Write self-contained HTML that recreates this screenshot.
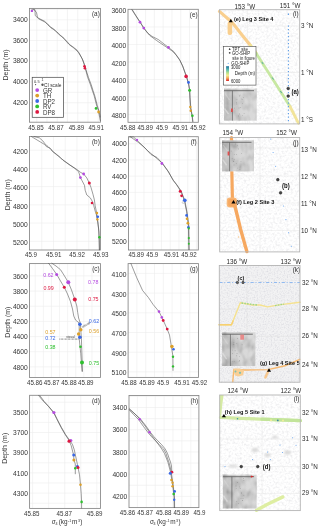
<!DOCTYPE html>
<html><head><meta charset="utf-8"><style>
html,body{margin:0;padding:0;background:#fff;width:320px;height:529px;overflow:hidden;}
svg{display:block;will-change:transform;}
text{font-family:"Liberation Sans", sans-serif;}
</style></head><body>
<svg width="320" height="529" viewBox="0 0 320 529" font-family='"Liberation Sans", sans-serif'>
<rect width="320" height="529" fill="#fff"/>
<line x1="29.50" y1="9.44" x2="100.50" y2="9.44" stroke="#ececec" stroke-width="0.6" />
<line x1="29.50" y1="19.80" x2="100.50" y2="19.80" stroke="#ececec" stroke-width="0.6" />
<line x1="29.50" y1="30.16" x2="100.50" y2="30.16" stroke="#ececec" stroke-width="0.6" />
<line x1="29.50" y1="40.52" x2="100.50" y2="40.52" stroke="#ececec" stroke-width="0.6" />
<line x1="29.50" y1="50.89" x2="100.50" y2="50.89" stroke="#ececec" stroke-width="0.6" />
<line x1="29.50" y1="61.25" x2="100.50" y2="61.25" stroke="#ececec" stroke-width="0.6" />
<line x1="29.50" y1="71.61" x2="100.50" y2="71.61" stroke="#ececec" stroke-width="0.6" />
<line x1="29.50" y1="81.97" x2="100.50" y2="81.97" stroke="#ececec" stroke-width="0.6" />
<line x1="29.50" y1="92.34" x2="100.50" y2="92.34" stroke="#ececec" stroke-width="0.6" />
<line x1="29.50" y1="102.70" x2="100.50" y2="102.70" stroke="#ececec" stroke-width="0.6" />
<line x1="29.50" y1="113.06" x2="100.50" y2="113.06" stroke="#ececec" stroke-width="0.6" />
<line x1="36.70" y1="8.40" x2="36.70" y2="122.20" stroke="#ececec" stroke-width="0.6" />
<line x1="46.95" y1="8.40" x2="46.95" y2="122.20" stroke="#ececec" stroke-width="0.6" />
<line x1="57.20" y1="8.40" x2="57.20" y2="122.20" stroke="#ececec" stroke-width="0.6" />
<line x1="67.45" y1="8.40" x2="67.45" y2="122.20" stroke="#ececec" stroke-width="0.6" />
<line x1="77.70" y1="8.40" x2="77.70" y2="122.20" stroke="#ececec" stroke-width="0.6" />
<line x1="87.95" y1="8.40" x2="87.95" y2="122.20" stroke="#ececec" stroke-width="0.6" />
<line x1="98.20" y1="8.40" x2="98.20" y2="122.20" stroke="#ececec" stroke-width="0.6" />
<rect x="29.5" y="8.4" width="71.00" height="113.80" fill="none" stroke="#858585" stroke-width="0.85"/>
<text x="27.80" y="19.40" font-size="6.7" text-anchor="end" fill="#363636" font-weight="normal" dominant-baseline="central" transform="matrix(1,0,0,1.1,0,-1.940)" >3400</text>
<text x="27.80" y="40.12" font-size="6.7" text-anchor="end" fill="#363636" font-weight="normal" dominant-baseline="central" transform="matrix(1,0,0,1.1,0,-4.013)" >3600</text>
<text x="27.80" y="60.85" font-size="6.7" text-anchor="end" fill="#363636" font-weight="normal" dominant-baseline="central" transform="matrix(1,0,0,1.1,0,-6.085)" >3800</text>
<text x="27.80" y="81.57" font-size="6.7" text-anchor="end" fill="#363636" font-weight="normal" dominant-baseline="central" transform="matrix(1,0,0,1.1,0,-8.158)" >4000</text>
<text x="27.80" y="102.30" font-size="6.7" text-anchor="end" fill="#363636" font-weight="normal" dominant-baseline="central" transform="matrix(1,0,0,1.1,0,-10.230)" >4200</text>
<text x="35.90" y="127.00" font-size="6.2" text-anchor="middle" fill="#363636" font-weight="normal" dominant-baseline="central" transform="matrix(1,0,0,1.1,0,-12.700)" >45.85</text>
<text x="55.90" y="127.00" font-size="6.2" text-anchor="middle" fill="#363636" font-weight="normal" dominant-baseline="central" transform="matrix(1,0,0,1.1,0,-12.700)" >45.87</text>
<text x="76.40" y="127.00" font-size="6.2" text-anchor="middle" fill="#363636" font-weight="normal" dominant-baseline="central" transform="matrix(1,0,0,1.1,0,-12.700)" >45.89</text>
<text x="96.20" y="127.00" font-size="6.2" text-anchor="middle" fill="#363636" font-weight="normal" dominant-baseline="central" transform="matrix(1,0,0,1.1,0,-12.700)" >45.91</text>
<text x="95.90" y="13.10" font-size="6.4" text-anchor="middle" fill="#363636" font-weight="normal" dominant-baseline="central" transform="matrix(1,0,0,1.1,0,-1.310)" >(a)</text>
<line x1="29.50" y1="150.20" x2="100.50" y2="150.20" stroke="#ececec" stroke-width="0.6" />
<line x1="29.50" y1="168.42" x2="100.50" y2="168.42" stroke="#ececec" stroke-width="0.6" />
<line x1="29.50" y1="186.64" x2="100.50" y2="186.64" stroke="#ececec" stroke-width="0.6" />
<line x1="29.50" y1="204.86" x2="100.50" y2="204.86" stroke="#ececec" stroke-width="0.6" />
<line x1="29.50" y1="223.08" x2="100.50" y2="223.08" stroke="#ececec" stroke-width="0.6" />
<line x1="29.50" y1="241.30" x2="100.50" y2="241.30" stroke="#ececec" stroke-width="0.6" />
<line x1="41.75" y1="136.50" x2="41.75" y2="250.00" stroke="#ececec" stroke-width="0.6" />
<line x1="53.50" y1="136.50" x2="53.50" y2="250.00" stroke="#ececec" stroke-width="0.6" />
<line x1="65.25" y1="136.50" x2="65.25" y2="250.00" stroke="#ececec" stroke-width="0.6" />
<line x1="77.00" y1="136.50" x2="77.00" y2="250.00" stroke="#ececec" stroke-width="0.6" />
<line x1="88.75" y1="136.50" x2="88.75" y2="250.00" stroke="#ececec" stroke-width="0.6" />
<rect x="29.5" y="136.5" width="71.00" height="113.50" fill="none" stroke="#858585" stroke-width="0.85"/>
<text x="27.80" y="151.40" font-size="6.7" text-anchor="end" fill="#363636" font-weight="normal" dominant-baseline="central" transform="matrix(1,0,0,1.1,0,-15.140)" >4200</text>
<text x="27.80" y="169.62" font-size="6.7" text-anchor="end" fill="#363636" font-weight="normal" dominant-baseline="central" transform="matrix(1,0,0,1.1,0,-16.962)" >4400</text>
<text x="27.80" y="187.84" font-size="6.7" text-anchor="end" fill="#363636" font-weight="normal" dominant-baseline="central" transform="matrix(1,0,0,1.1,0,-18.784)" >4600</text>
<text x="27.80" y="206.06" font-size="6.7" text-anchor="end" fill="#363636" font-weight="normal" dominant-baseline="central" transform="matrix(1,0,0,1.1,0,-20.606)" >4800</text>
<text x="27.80" y="224.28" font-size="6.7" text-anchor="end" fill="#363636" font-weight="normal" dominant-baseline="central" transform="matrix(1,0,0,1.1,0,-22.428)" >5000</text>
<text x="27.80" y="242.50" font-size="6.7" text-anchor="end" fill="#363636" font-weight="normal" dominant-baseline="central" transform="matrix(1,0,0,1.1,0,-24.250)" >5200</text>
<text x="31.00" y="254.80" font-size="6.2" text-anchor="middle" fill="#363636" font-weight="normal" dominant-baseline="central" transform="matrix(1,0,0,1.1,0,-25.480)" >45.9</text>
<text x="53.70" y="254.80" font-size="6.2" text-anchor="middle" fill="#363636" font-weight="normal" dominant-baseline="central" transform="matrix(1,0,0,1.1,0,-25.480)" >45.91</text>
<text x="77.10" y="254.80" font-size="6.2" text-anchor="middle" fill="#363636" font-weight="normal" dominant-baseline="central" transform="matrix(1,0,0,1.1,0,-25.480)" >45.92</text>
<text x="100.70" y="254.80" font-size="6.2" text-anchor="middle" fill="#363636" font-weight="normal" dominant-baseline="central" transform="matrix(1,0,0,1.1,0,-25.480)" >45.93</text>
<text x="95.90" y="141.20" font-size="6.4" text-anchor="middle" fill="#363636" font-weight="normal" dominant-baseline="central" transform="matrix(1,0,0,1.1,0,-14.120)" >(b)</text>
<line x1="29.50" y1="275.90" x2="100.50" y2="275.90" stroke="#ececec" stroke-width="0.6" />
<line x1="29.50" y1="291.07" x2="100.50" y2="291.07" stroke="#ececec" stroke-width="0.6" />
<line x1="29.50" y1="306.23" x2="100.50" y2="306.23" stroke="#ececec" stroke-width="0.6" />
<line x1="29.50" y1="321.40" x2="100.50" y2="321.40" stroke="#ececec" stroke-width="0.6" />
<line x1="29.50" y1="336.57" x2="100.50" y2="336.57" stroke="#ececec" stroke-width="0.6" />
<line x1="29.50" y1="351.73" x2="100.50" y2="351.73" stroke="#ececec" stroke-width="0.6" />
<line x1="29.50" y1="366.90" x2="100.50" y2="366.90" stroke="#ececec" stroke-width="0.6" />
<line x1="35.25" y1="263.60" x2="35.25" y2="377.50" stroke="#ececec" stroke-width="0.6" />
<line x1="43.35" y1="263.60" x2="43.35" y2="377.50" stroke="#ececec" stroke-width="0.6" />
<line x1="51.45" y1="263.60" x2="51.45" y2="377.50" stroke="#ececec" stroke-width="0.6" />
<line x1="59.55" y1="263.60" x2="59.55" y2="377.50" stroke="#ececec" stroke-width="0.6" />
<line x1="67.65" y1="263.60" x2="67.65" y2="377.50" stroke="#ececec" stroke-width="0.6" />
<line x1="75.75" y1="263.60" x2="75.75" y2="377.50" stroke="#ececec" stroke-width="0.6" />
<line x1="83.85" y1="263.60" x2="83.85" y2="377.50" stroke="#ececec" stroke-width="0.6" />
<line x1="91.95" y1="263.60" x2="91.95" y2="377.50" stroke="#ececec" stroke-width="0.6" />
<rect x="29.5" y="263.6" width="71.00" height="113.90" fill="none" stroke="#858585" stroke-width="0.85"/>
<text x="27.80" y="275.90" font-size="6.7" text-anchor="end" fill="#363636" font-weight="normal" dominant-baseline="central" transform="matrix(1,0,0,1.1,0,-27.590)" >3600</text>
<text x="27.80" y="291.07" font-size="6.7" text-anchor="end" fill="#363636" font-weight="normal" dominant-baseline="central" transform="matrix(1,0,0,1.1,0,-29.107)" >3800</text>
<text x="27.80" y="306.23" font-size="6.7" text-anchor="end" fill="#363636" font-weight="normal" dominant-baseline="central" transform="matrix(1,0,0,1.1,0,-30.623)" >4000</text>
<text x="27.80" y="321.40" font-size="6.7" text-anchor="end" fill="#363636" font-weight="normal" dominant-baseline="central" transform="matrix(1,0,0,1.1,0,-32.140)" >4200</text>
<text x="27.80" y="336.57" font-size="6.7" text-anchor="end" fill="#363636" font-weight="normal" dominant-baseline="central" transform="matrix(1,0,0,1.1,0,-33.657)" >4400</text>
<text x="27.80" y="351.73" font-size="6.7" text-anchor="end" fill="#363636" font-weight="normal" dominant-baseline="central" transform="matrix(1,0,0,1.1,0,-35.173)" >4600</text>
<text x="27.80" y="366.90" font-size="6.7" text-anchor="end" fill="#363636" font-weight="normal" dominant-baseline="central" transform="matrix(1,0,0,1.1,0,-36.690)" >4800</text>
<text x="34.70" y="382.30" font-size="6.2" text-anchor="middle" fill="#363636" font-weight="normal" dominant-baseline="central" transform="matrix(1,0,0,1.1,0,-38.230)" >45.86</text>
<text x="51.60" y="382.30" font-size="6.2" text-anchor="middle" fill="#363636" font-weight="normal" dominant-baseline="central" transform="matrix(1,0,0,1.1,0,-38.230)" >45.87</text>
<text x="68.90" y="382.30" font-size="6.2" text-anchor="middle" fill="#363636" font-weight="normal" dominant-baseline="central" transform="matrix(1,0,0,1.1,0,-38.230)" >45.88</text>
<text x="85.80" y="382.30" font-size="6.2" text-anchor="middle" fill="#363636" font-weight="normal" dominant-baseline="central" transform="matrix(1,0,0,1.1,0,-38.230)" >45.89</text>
<text x="95.90" y="268.30" font-size="6.4" text-anchor="middle" fill="#363636" font-weight="normal" dominant-baseline="central" transform="matrix(1,0,0,1.1,0,-26.830)" >(c)</text>
<line x1="29.60" y1="402.20" x2="100.50" y2="402.20" stroke="#ececec" stroke-width="0.6" />
<line x1="29.60" y1="412.30" x2="100.50" y2="412.30" stroke="#ececec" stroke-width="0.6" />
<line x1="29.60" y1="422.40" x2="100.50" y2="422.40" stroke="#ececec" stroke-width="0.6" />
<line x1="29.60" y1="432.50" x2="100.50" y2="432.50" stroke="#ececec" stroke-width="0.6" />
<line x1="29.60" y1="442.60" x2="100.50" y2="442.60" stroke="#ececec" stroke-width="0.6" />
<line x1="29.60" y1="452.70" x2="100.50" y2="452.70" stroke="#ececec" stroke-width="0.6" />
<line x1="29.60" y1="462.80" x2="100.50" y2="462.80" stroke="#ececec" stroke-width="0.6" />
<line x1="29.60" y1="472.90" x2="100.50" y2="472.90" stroke="#ececec" stroke-width="0.6" />
<line x1="29.60" y1="483.00" x2="100.50" y2="483.00" stroke="#ececec" stroke-width="0.6" />
<line x1="29.60" y1="493.10" x2="100.50" y2="493.10" stroke="#ececec" stroke-width="0.6" />
<line x1="29.60" y1="503.20" x2="100.50" y2="503.20" stroke="#ececec" stroke-width="0.6" />
<line x1="32.60" y1="395.30" x2="32.60" y2="508.40" stroke="#ececec" stroke-width="0.6" />
<line x1="48.65" y1="395.30" x2="48.65" y2="508.40" stroke="#ececec" stroke-width="0.6" />
<line x1="64.70" y1="395.30" x2="64.70" y2="508.40" stroke="#ececec" stroke-width="0.6" />
<line x1="80.75" y1="395.30" x2="80.75" y2="508.40" stroke="#ececec" stroke-width="0.6" />
<line x1="96.80" y1="395.30" x2="96.80" y2="508.40" stroke="#ececec" stroke-width="0.6" />
<rect x="29.6" y="395.3" width="70.90" height="113.10" fill="none" stroke="#858585" stroke-width="0.85"/>
<text x="27.90" y="412.30" font-size="6.7" text-anchor="end" fill="#363636" font-weight="normal" dominant-baseline="central" transform="matrix(1,0,0,1.1,0,-41.230)" >3500</text>
<text x="27.90" y="432.50" font-size="6.7" text-anchor="end" fill="#363636" font-weight="normal" dominant-baseline="central" transform="matrix(1,0,0,1.1,0,-43.250)" >3700</text>
<text x="27.90" y="452.70" font-size="6.7" text-anchor="end" fill="#363636" font-weight="normal" dominant-baseline="central" transform="matrix(1,0,0,1.1,0,-45.270)" >3900</text>
<text x="27.90" y="472.90" font-size="6.7" text-anchor="end" fill="#363636" font-weight="normal" dominant-baseline="central" transform="matrix(1,0,0,1.1,0,-47.290)" >4100</text>
<text x="27.90" y="493.10" font-size="6.7" text-anchor="end" fill="#363636" font-weight="normal" dominant-baseline="central" transform="matrix(1,0,0,1.1,0,-49.310)" >4300</text>
<text x="31.75" y="513.20" font-size="6.2" text-anchor="middle" fill="#363636" font-weight="normal" dominant-baseline="central" transform="matrix(1,0,0,1.1,0,-51.320)" >45.85</text>
<text x="64.25" y="513.20" font-size="6.2" text-anchor="middle" fill="#363636" font-weight="normal" dominant-baseline="central" transform="matrix(1,0,0,1.1,0,-51.320)" >45.87</text>
<text x="94.60" y="513.20" font-size="6.2" text-anchor="middle" fill="#363636" font-weight="normal" dominant-baseline="central" transform="matrix(1,0,0,1.1,0,-51.320)" >45.89</text>
<text x="95.90" y="400.00" font-size="6.4" text-anchor="middle" fill="#363636" font-weight="normal" dominant-baseline="central" transform="matrix(1,0,0,1.1,0,-40.000)" >(d)</text>
<line x1="128.00" y1="26.98" x2="198.30" y2="26.98" stroke="#ececec" stroke-width="0.6" />
<line x1="128.00" y1="44.47" x2="198.30" y2="44.47" stroke="#ececec" stroke-width="0.6" />
<line x1="128.00" y1="61.95" x2="198.30" y2="61.95" stroke="#ececec" stroke-width="0.6" />
<line x1="128.00" y1="79.43" x2="198.30" y2="79.43" stroke="#ececec" stroke-width="0.6" />
<line x1="128.00" y1="96.92" x2="198.30" y2="96.92" stroke="#ececec" stroke-width="0.6" />
<line x1="128.00" y1="114.40" x2="198.30" y2="114.40" stroke="#ececec" stroke-width="0.6" />
<line x1="136.79" y1="9.30" x2="136.79" y2="122.30" stroke="#ececec" stroke-width="0.6" />
<line x1="145.58" y1="9.30" x2="145.58" y2="122.30" stroke="#ececec" stroke-width="0.6" />
<line x1="154.37" y1="9.30" x2="154.37" y2="122.30" stroke="#ececec" stroke-width="0.6" />
<line x1="163.16" y1="9.30" x2="163.16" y2="122.30" stroke="#ececec" stroke-width="0.6" />
<line x1="171.95" y1="9.30" x2="171.95" y2="122.30" stroke="#ececec" stroke-width="0.6" />
<line x1="180.74" y1="9.30" x2="180.74" y2="122.30" stroke="#ececec" stroke-width="0.6" />
<line x1="189.53" y1="9.30" x2="189.53" y2="122.30" stroke="#ececec" stroke-width="0.6" />
<rect x="128.0" y="9.3" width="70.30" height="113.00" fill="none" stroke="#858585" stroke-width="0.85"/>
<text x="126.30" y="10.80" font-size="6.7" text-anchor="end" fill="#363636" font-weight="normal" dominant-baseline="central" transform="matrix(1,0,0,1.1,0,-1.080)" >3600</text>
<text x="126.30" y="28.28" font-size="6.7" text-anchor="end" fill="#363636" font-weight="normal" dominant-baseline="central" transform="matrix(1,0,0,1.1,0,-2.828)" >3800</text>
<text x="126.30" y="45.77" font-size="6.7" text-anchor="end" fill="#363636" font-weight="normal" dominant-baseline="central" transform="matrix(1,0,0,1.1,0,-4.577)" >4000</text>
<text x="126.30" y="63.25" font-size="6.7" text-anchor="end" fill="#363636" font-weight="normal" dominant-baseline="central" transform="matrix(1,0,0,1.1,0,-6.325)" >4200</text>
<text x="126.30" y="80.73" font-size="6.7" text-anchor="end" fill="#363636" font-weight="normal" dominant-baseline="central" transform="matrix(1,0,0,1.1,0,-8.073)" >4400</text>
<text x="126.30" y="98.22" font-size="6.7" text-anchor="end" fill="#363636" font-weight="normal" dominant-baseline="central" transform="matrix(1,0,0,1.1,0,-9.822)" >4600</text>
<text x="126.30" y="115.70" font-size="6.7" text-anchor="end" fill="#363636" font-weight="normal" dominant-baseline="central" transform="matrix(1,0,0,1.1,0,-11.570)" >4800</text>
<text x="127.70" y="127.10" font-size="6.2" text-anchor="middle" fill="#363636" font-weight="normal" dominant-baseline="central" transform="matrix(1,0,0,1.1,0,-12.710)" >45.88</text>
<text x="145.20" y="127.10" font-size="6.2" text-anchor="middle" fill="#363636" font-weight="normal" dominant-baseline="central" transform="matrix(1,0,0,1.1,0,-12.710)" >45.89</text>
<text x="162.00" y="127.10" font-size="6.2" text-anchor="middle" fill="#363636" font-weight="normal" dominant-baseline="central" transform="matrix(1,0,0,1.1,0,-12.710)" >45.9</text>
<text x="180.30" y="127.10" font-size="6.2" text-anchor="middle" fill="#363636" font-weight="normal" dominant-baseline="central" transform="matrix(1,0,0,1.1,0,-12.710)" >45.91</text>
<text x="197.90" y="127.10" font-size="6.2" text-anchor="middle" fill="#363636" font-weight="normal" dominant-baseline="central" transform="matrix(1,0,0,1.1,0,-12.710)" >45.92</text>
<text x="193.70" y="14.00" font-size="6.4" text-anchor="middle" fill="#363636" font-weight="normal" dominant-baseline="central" transform="matrix(1,0,0,1.1,0,-1.400)" >(e)</text>
<line x1="128.50" y1="143.70" x2="198.30" y2="143.70" stroke="#ececec" stroke-width="0.6" />
<line x1="128.50" y1="159.93" x2="198.30" y2="159.93" stroke="#ececec" stroke-width="0.6" />
<line x1="128.50" y1="176.17" x2="198.30" y2="176.17" stroke="#ececec" stroke-width="0.6" />
<line x1="128.50" y1="192.40" x2="198.30" y2="192.40" stroke="#ececec" stroke-width="0.6" />
<line x1="128.50" y1="208.63" x2="198.30" y2="208.63" stroke="#ececec" stroke-width="0.6" />
<line x1="128.50" y1="224.87" x2="198.30" y2="224.87" stroke="#ececec" stroke-width="0.6" />
<line x1="128.50" y1="241.10" x2="198.30" y2="241.10" stroke="#ececec" stroke-width="0.6" />
<line x1="135.20" y1="136.70" x2="135.20" y2="250.00" stroke="#ececec" stroke-width="0.6" />
<line x1="143.95" y1="136.70" x2="143.95" y2="250.00" stroke="#ececec" stroke-width="0.6" />
<line x1="152.70" y1="136.70" x2="152.70" y2="250.00" stroke="#ececec" stroke-width="0.6" />
<line x1="161.45" y1="136.70" x2="161.45" y2="250.00" stroke="#ececec" stroke-width="0.6" />
<line x1="170.20" y1="136.70" x2="170.20" y2="250.00" stroke="#ececec" stroke-width="0.6" />
<line x1="178.95" y1="136.70" x2="178.95" y2="250.00" stroke="#ececec" stroke-width="0.6" />
<line x1="187.70" y1="136.70" x2="187.70" y2="250.00" stroke="#ececec" stroke-width="0.6" />
<line x1="196.45" y1="136.70" x2="196.45" y2="250.00" stroke="#ececec" stroke-width="0.6" />
<rect x="128.5" y="136.7" width="69.80" height="113.30" fill="none" stroke="#858585" stroke-width="0.85"/>
<text x="126.80" y="143.70" font-size="6.7" text-anchor="end" fill="#363636" font-weight="normal" dominant-baseline="central" transform="matrix(1,0,0,1.1,0,-14.370)" >4000</text>
<text x="126.80" y="159.93" font-size="6.7" text-anchor="end" fill="#363636" font-weight="normal" dominant-baseline="central" transform="matrix(1,0,0,1.1,0,-15.993)" >4200</text>
<text x="126.80" y="176.17" font-size="6.7" text-anchor="end" fill="#363636" font-weight="normal" dominant-baseline="central" transform="matrix(1,0,0,1.1,0,-17.617)" >4400</text>
<text x="126.80" y="192.40" font-size="6.7" text-anchor="end" fill="#363636" font-weight="normal" dominant-baseline="central" transform="matrix(1,0,0,1.1,0,-19.240)" >4600</text>
<text x="126.80" y="208.63" font-size="6.7" text-anchor="end" fill="#363636" font-weight="normal" dominant-baseline="central" transform="matrix(1,0,0,1.1,0,-20.863)" >4800</text>
<text x="126.80" y="224.87" font-size="6.7" text-anchor="end" fill="#363636" font-weight="normal" dominant-baseline="central" transform="matrix(1,0,0,1.1,0,-22.487)" >5000</text>
<text x="126.80" y="241.10" font-size="6.7" text-anchor="end" fill="#363636" font-weight="normal" dominant-baseline="central" transform="matrix(1,0,0,1.1,0,-24.110)" >5200</text>
<text x="136.20" y="254.80" font-size="6.2" text-anchor="middle" fill="#363636" font-weight="normal" dominant-baseline="central" transform="matrix(1,0,0,1.1,0,-25.480)" >45.89</text>
<text x="152.30" y="254.80" font-size="6.2" text-anchor="middle" fill="#363636" font-weight="normal" dominant-baseline="central" transform="matrix(1,0,0,1.1,0,-25.480)" >45.9</text>
<text x="171.50" y="254.80" font-size="6.2" text-anchor="middle" fill="#363636" font-weight="normal" dominant-baseline="central" transform="matrix(1,0,0,1.1,0,-25.480)" >45.91</text>
<text x="189.00" y="254.80" font-size="6.2" text-anchor="middle" fill="#363636" font-weight="normal" dominant-baseline="central" transform="matrix(1,0,0,1.1,0,-25.480)" >45.92</text>
<text x="193.70" y="141.40" font-size="6.4" text-anchor="middle" fill="#363636" font-weight="normal" dominant-baseline="central" transform="matrix(1,0,0,1.1,0,-14.140)" >(f)</text>
<line x1="128.10" y1="273.40" x2="198.50" y2="273.40" stroke="#ececec" stroke-width="0.6" />
<line x1="128.10" y1="293.10" x2="198.50" y2="293.10" stroke="#ececec" stroke-width="0.6" />
<line x1="128.10" y1="312.80" x2="198.50" y2="312.80" stroke="#ececec" stroke-width="0.6" />
<line x1="128.10" y1="332.50" x2="198.50" y2="332.50" stroke="#ececec" stroke-width="0.6" />
<line x1="128.10" y1="352.20" x2="198.50" y2="352.20" stroke="#ececec" stroke-width="0.6" />
<line x1="128.10" y1="371.90" x2="198.50" y2="371.90" stroke="#ececec" stroke-width="0.6" />
<line x1="136.90" y1="263.60" x2="136.90" y2="377.40" stroke="#ececec" stroke-width="0.6" />
<line x1="145.70" y1="263.60" x2="145.70" y2="377.40" stroke="#ececec" stroke-width="0.6" />
<line x1="154.50" y1="263.60" x2="154.50" y2="377.40" stroke="#ececec" stroke-width="0.6" />
<line x1="163.30" y1="263.60" x2="163.30" y2="377.40" stroke="#ececec" stroke-width="0.6" />
<line x1="172.10" y1="263.60" x2="172.10" y2="377.40" stroke="#ececec" stroke-width="0.6" />
<line x1="180.90" y1="263.60" x2="180.90" y2="377.40" stroke="#ececec" stroke-width="0.6" />
<line x1="189.70" y1="263.60" x2="189.70" y2="377.40" stroke="#ececec" stroke-width="0.6" />
<rect x="128.1" y="263.6" width="70.40" height="113.80" fill="none" stroke="#858585" stroke-width="0.85"/>
<text x="126.40" y="274.30" font-size="6.7" text-anchor="end" fill="#363636" font-weight="normal" dominant-baseline="central" transform="matrix(1,0,0,1.1,0,-27.430)" >4100</text>
<text x="126.40" y="294.00" font-size="6.7" text-anchor="end" fill="#363636" font-weight="normal" dominant-baseline="central" transform="matrix(1,0,0,1.1,0,-29.400)" >4300</text>
<text x="126.40" y="313.70" font-size="6.7" text-anchor="end" fill="#363636" font-weight="normal" dominant-baseline="central" transform="matrix(1,0,0,1.1,0,-31.370)" >4500</text>
<text x="126.40" y="333.40" font-size="6.7" text-anchor="end" fill="#363636" font-weight="normal" dominant-baseline="central" transform="matrix(1,0,0,1.1,0,-33.340)" >4700</text>
<text x="126.40" y="353.10" font-size="6.7" text-anchor="end" fill="#363636" font-weight="normal" dominant-baseline="central" transform="matrix(1,0,0,1.1,0,-35.310)" >4900</text>
<text x="126.40" y="372.80" font-size="6.7" text-anchor="end" fill="#363636" font-weight="normal" dominant-baseline="central" transform="matrix(1,0,0,1.1,0,-37.280)" >5100</text>
<text x="129.00" y="382.20" font-size="6.2" text-anchor="middle" fill="#363636" font-weight="normal" dominant-baseline="central" transform="matrix(1,0,0,1.1,0,-38.220)" >45.88</text>
<text x="147.00" y="382.20" font-size="6.2" text-anchor="middle" fill="#363636" font-weight="normal" dominant-baseline="central" transform="matrix(1,0,0,1.1,0,-38.220)" >45.89</text>
<text x="163.10" y="382.20" font-size="6.2" text-anchor="middle" fill="#363636" font-weight="normal" dominant-baseline="central" transform="matrix(1,0,0,1.1,0,-38.220)" >45.9</text>
<text x="182.00" y="382.20" font-size="6.2" text-anchor="middle" fill="#363636" font-weight="normal" dominant-baseline="central" transform="matrix(1,0,0,1.1,0,-38.220)" >45.91</text>
<text x="199.50" y="382.20" font-size="6.2" text-anchor="middle" fill="#363636" font-weight="normal" dominant-baseline="central" transform="matrix(1,0,0,1.1,0,-38.220)" >45.92</text>
<text x="193.90" y="268.30" font-size="6.4" text-anchor="middle" fill="#363636" font-weight="normal" dominant-baseline="central" transform="matrix(1,0,0,1.1,0,-26.830)" >(g)</text>
<line x1="129.00" y1="396.39" x2="198.90" y2="396.39" stroke="#ececec" stroke-width="0.6" />
<line x1="129.00" y1="407.50" x2="198.90" y2="407.50" stroke="#ececec" stroke-width="0.6" />
<line x1="129.00" y1="418.61" x2="198.90" y2="418.61" stroke="#ececec" stroke-width="0.6" />
<line x1="129.00" y1="429.73" x2="198.90" y2="429.73" stroke="#ececec" stroke-width="0.6" />
<line x1="129.00" y1="440.84" x2="198.90" y2="440.84" stroke="#ececec" stroke-width="0.6" />
<line x1="129.00" y1="451.95" x2="198.90" y2="451.95" stroke="#ececec" stroke-width="0.6" />
<line x1="129.00" y1="463.06" x2="198.90" y2="463.06" stroke="#ececec" stroke-width="0.6" />
<line x1="129.00" y1="474.17" x2="198.90" y2="474.17" stroke="#ececec" stroke-width="0.6" />
<line x1="129.00" y1="485.29" x2="198.90" y2="485.29" stroke="#ececec" stroke-width="0.6" />
<line x1="129.00" y1="496.40" x2="198.90" y2="496.40" stroke="#ececec" stroke-width="0.6" />
<line x1="137.40" y1="395.50" x2="137.40" y2="507.60" stroke="#ececec" stroke-width="0.6" />
<line x1="146.30" y1="395.50" x2="146.30" y2="507.60" stroke="#ececec" stroke-width="0.6" />
<line x1="155.20" y1="395.50" x2="155.20" y2="507.60" stroke="#ececec" stroke-width="0.6" />
<line x1="164.10" y1="395.50" x2="164.10" y2="507.60" stroke="#ececec" stroke-width="0.6" />
<line x1="173.00" y1="395.50" x2="173.00" y2="507.60" stroke="#ececec" stroke-width="0.6" />
<line x1="181.90" y1="395.50" x2="181.90" y2="507.60" stroke="#ececec" stroke-width="0.6" />
<line x1="190.80" y1="395.50" x2="190.80" y2="507.60" stroke="#ececec" stroke-width="0.6" />
<rect x="129.0" y="395.5" width="69.90" height="112.10" fill="none" stroke="#858585" stroke-width="0.85"/>
<text x="127.30" y="407.50" font-size="6.7" text-anchor="end" fill="#363636" font-weight="normal" dominant-baseline="central" transform="matrix(1,0,0,1.1,0,-40.750)" >3400</text>
<text x="127.30" y="429.73" font-size="6.7" text-anchor="end" fill="#363636" font-weight="normal" dominant-baseline="central" transform="matrix(1,0,0,1.1,0,-42.973)" >3600</text>
<text x="127.30" y="451.95" font-size="6.7" text-anchor="end" fill="#363636" font-weight="normal" dominant-baseline="central" transform="matrix(1,0,0,1.1,0,-45.195)" >3800</text>
<text x="127.30" y="474.17" font-size="6.7" text-anchor="end" fill="#363636" font-weight="normal" dominant-baseline="central" transform="matrix(1,0,0,1.1,0,-47.418)" >4000</text>
<text x="127.30" y="496.40" font-size="6.7" text-anchor="end" fill="#363636" font-weight="normal" dominant-baseline="central" transform="matrix(1,0,0,1.1,0,-49.640)" >4200</text>
<text x="127.50" y="512.40" font-size="6.2" text-anchor="middle" fill="#363636" font-weight="normal" dominant-baseline="central" transform="matrix(1,0,0,1.1,0,-51.240)" >45.86</text>
<text x="145.10" y="512.40" font-size="6.2" text-anchor="middle" fill="#363636" font-weight="normal" dominant-baseline="central" transform="matrix(1,0,0,1.1,0,-51.240)" >45.87</text>
<text x="163.60" y="512.40" font-size="6.2" text-anchor="middle" fill="#363636" font-weight="normal" dominant-baseline="central" transform="matrix(1,0,0,1.1,0,-51.240)" >45.88</text>
<text x="181.20" y="512.40" font-size="6.2" text-anchor="middle" fill="#363636" font-weight="normal" dominant-baseline="central" transform="matrix(1,0,0,1.1,0,-51.240)" >45.89</text>
<text x="199.50" y="512.40" font-size="6.2" text-anchor="middle" fill="#363636" font-weight="normal" dominant-baseline="central" transform="matrix(1,0,0,1.1,0,-51.240)" >45.9</text>
<text x="194.30" y="400.20" font-size="6.4" text-anchor="middle" fill="#363636" font-weight="normal" dominant-baseline="central" transform="matrix(1,0,0,1.1,0,-40.020)" >(h)</text>
<text x="5.4" y="65" font-size="7.0" text-anchor="middle" fill="#363636" dominant-baseline="central" transform="rotate(-90 5.4 65)">Depth (m)</text>
<text x="7.5" y="194.8" font-size="7.0" text-anchor="middle" fill="#363636" dominant-baseline="central" transform="rotate(-90 7.5 194.8)">Depth (m)</text>
<text x="7.5" y="322.1" font-size="7.0" text-anchor="middle" fill="#363636" dominant-baseline="central" transform="rotate(-90 7.5 322.1)">Depth (m)</text>
<text x="4.8" y="448.3" font-size="7.0" text-anchor="middle" fill="#363636" dominant-baseline="central" transform="rotate(-90 4.8 448.3)">Depth (m)</text>
<text x="51.70" y="524.20" font-size="6.4" fill="#363636">σ</text>
<text x="55.40" y="525.40" font-size="3.7" fill="#363636">4</text>
<text x="58.70" y="524.20" font-size="6.4" fill="#363636">(kg</text>
<text x="68.00" y="521.60" font-size="3.7" fill="#363636">-1</text>
<text x="72.10" y="524.20" font-size="6.4" fill="#363636">m</text>
<text x="77.90" y="521.60" font-size="3.7" fill="#363636">3</text>
<text x="80.30" y="524.20" font-size="6.4" fill="#363636">)</text>
<text x="149.90" y="524.20" font-size="6.4" fill="#363636">σ</text>
<text x="153.60" y="525.40" font-size="3.7" fill="#363636">4</text>
<text x="156.90" y="524.20" font-size="6.4" fill="#363636">(kg</text>
<text x="166.20" y="521.60" font-size="3.7" fill="#363636">-1</text>
<text x="170.30" y="524.20" font-size="6.4" fill="#363636">m</text>
<text x="176.10" y="521.60" font-size="3.7" fill="#363636">3</text>
<text x="178.50" y="524.20" font-size="6.4" fill="#363636">)</text>
<polyline points="31.90,9.70 35.00,9.70 35.20,15.50 38.90,19.00 42.00,20.50 45.20,22.20 47.50,24.50 49.90,26.90 52.00,28.50 54.60,30.00 57.00,32.50 59.25,34.70 61.50,36.50 63.90,38.60 66.00,41.00 68.60,44.00 71.00,46.00 73.50,47.80 76.00,50.00 78.00,51.90 80.00,55.00 82.00,58.50 83.80,63.00 84.70,66.00 86.00,71.00 87.50,76.90 90.30,84.40 92.20,90.00 94.10,95.60 96.50,105.00 98.40,110.60 100.20,120.50" fill="none" stroke="#4c4c4c" stroke-width="0.55" stroke-linejoin="round" stroke-linecap="round" />
<polyline points="33.50,9.00 36.50,12.50 37.50,17.50 41.00,19.50 44.50,21.20 47.00,23.50 49.00,25.20 51.00,27.50 53.50,28.80 56.00,31.50 58.50,33.30 60.50,35.50 62.50,36.80 65.00,39.50 67.30,41.80 69.50,44.50 72.50,46.50 75.00,48.50 76.50,49.50 79.00,52.80 81.00,56.50 82.80,60.00 84.20,64.00 85.40,68.00 87.00,73.00 88.50,77.50 91.30,85.00 93.00,90.50 95.00,96.50 97.30,105.50 99.00,111.00 100.30,117.00" fill="none" stroke="#4c4c4c" stroke-width="0.55" stroke-linejoin="round" stroke-linecap="round" />
<circle cx="31.90" cy="10.90" r="1.2" fill="#b54be0"/>
<circle cx="84.50" cy="66.30" r="1.3" fill="#dc1840"/>
<circle cx="84.90" cy="68.30" r="1.3" fill="#dc1840"/>
<circle cx="96.00" cy="108.40" r="1.3" fill="#2ec02e"/>
<circle cx="98.60" cy="112.00" r="1.4" fill="#dca02a"/>
<rect x="32.2" y="77.3" width="31.4" height="40" fill="#fff" stroke="#444" stroke-width="0.7"/>
<text x="36.90" y="81.30" font-size="4.0" text-anchor="middle" fill="#333" font-weight="normal" dominant-baseline="central" transform="matrix(1,0,0,1.1,0,-8.130)" >0.5</text>
<text x="42.40" y="79.90" font-size="3.6" text-anchor="middle" fill="#333" font-weight="normal" dominant-baseline="central" transform="matrix(1,0,0,1.1,0,-7.990)" >1</text>
<circle cx="35.60" cy="84.60" r="0.6" fill="#444"/>
<circle cx="42.50" cy="84.80" r="1.2" fill="#555"/>
<text x="44.10" y="85.10" font-size="4.8" text-anchor="start" fill="#333" font-weight="normal" dominant-baseline="central" transform="matrix(1,0,0,1.1,0,-8.510)" >CI scale</text>
<circle cx="37.20" cy="90.10" r="1.9" fill="#b54be0"/>
<text x="43.00" y="90.30" font-size="6.2" text-anchor="start" fill="#363636" font-weight="normal" dominant-baseline="central" transform="matrix(1,0,0,1.1,0,-9.030)" >GR</text>
<circle cx="37.20" cy="95.55" r="1.9" fill="#dca02a"/>
<text x="43.00" y="95.75" font-size="6.2" text-anchor="start" fill="#363636" font-weight="normal" dominant-baseline="central" transform="matrix(1,0,0,1.1,0,-9.575)" >TH</text>
<circle cx="37.20" cy="101.00" r="1.9" fill="#3a68e6"/>
<text x="43.00" y="101.20" font-size="6.2" text-anchor="start" fill="#363636" font-weight="normal" dominant-baseline="central" transform="matrix(1,0,0,1.1,0,-10.120)" >DP2</text>
<circle cx="37.20" cy="106.45" r="1.9" fill="#2ec02e"/>
<text x="43.00" y="106.65" font-size="6.2" text-anchor="start" fill="#363636" font-weight="normal" dominant-baseline="central" transform="matrix(1,0,0,1.1,0,-10.665)" >RV</text>
<circle cx="37.20" cy="111.90" r="1.9" fill="#dc1840"/>
<text x="43.00" y="112.10" font-size="6.2" text-anchor="start" fill="#363636" font-weight="normal" dominant-baseline="central" transform="matrix(1,0,0,1.1,0,-11.210)" >DP8</text>
<polyline points="31.50,136.60 35.90,139.25 40.25,141.90 44.60,144.50 46.40,146.60 49.90,148.00 52.50,151.50 56.90,155.00 60.40,157.60 63.00,160.25 69.10,164.60 74.40,168.10 78.60,171.70 79.25,173.75 80.40,177.60 82.00,180.60 84.50,185.40 85.20,190.30 86.80,195.00 90.25,197.80 92.30,201.30 93.70,205.40 95.10,210.90 96.50,215.00 97.80,222.00 99.00,232.00 99.50,249.80" fill="none" stroke="#4c4c4c" stroke-width="0.55" stroke-linejoin="round" stroke-linecap="round" />
<polyline points="34.10,136.60 39.40,137.85 42.90,141.00 45.50,144.50 48.00,146.50 51.00,149.50 54.00,152.30 58.00,155.50 61.50,158.80 64.50,161.00 70.00,165.00 75.00,168.30 78.75,170.75 80.60,172.40 83.65,174.00 86.80,177.90 89.30,183.10 91.00,187.50 93.00,194.40 94.40,199.90 95.10,205.40 96.50,212.30 97.40,219.00 98.50,228.00 99.20,240.00 99.30,249.80" fill="none" stroke="#4c4c4c" stroke-width="0.55" stroke-linejoin="round" stroke-linecap="round" />
<circle cx="80.40" cy="177.60" r="1.4" fill="#b54be0"/>
<circle cx="83.65" cy="174.00" r="1.4" fill="#b54be0"/>
<circle cx="89.30" cy="183.10" r="1.5" fill="#dc1840"/>
<circle cx="92.00" cy="203.00" r="1.3" fill="#dc1840"/>
<circle cx="96.90" cy="213.00" r="1.3" fill="#dca02a"/>
<circle cx="97.80" cy="216.70" r="1.3" fill="#3a68e6"/>
<circle cx="97.40" cy="219.40" r="1.2" fill="#dca02a"/>
<circle cx="99.40" cy="237.25" r="1.2" fill="#2ec02e"/>
<polyline points="48.60,263.30 52.50,268.50 56.70,274.40 60.50,281.00 64.30,287.30 67.50,294.00 70.50,301.60 72.50,309.00 73.75,316.00 75.50,320.00 79.20,323.00 79.20,338.40 80.75,353.75 82.00,371.25" fill="none" stroke="#4c4c4c" stroke-width="0.55" stroke-linejoin="round" stroke-linecap="round" />
<polyline points="51.90,263.30 56.00,266.00 60.60,269.80 64.50,276.00 68.30,282.30 71.50,290.00 74.80,299.40 76.80,306.00 77.70,312.50 78.60,318.00 80.30,323.00 81.40,338.40 82.50,371.25" fill="none" stroke="#4c4c4c" stroke-width="0.55" stroke-linejoin="round" stroke-linecap="round" />
<circle cx="56.70" cy="274.40" r="1.5" fill="#b54be0"/>
<circle cx="68.30" cy="282.30" r="2.0" fill="#b54be0"/>
<circle cx="64.30" cy="287.30" r="1.5" fill="#dc1840"/>
<circle cx="74.80" cy="299.40" r="2.0" fill="#dc1840"/>
<circle cx="79.90" cy="324.20" r="1.8" fill="#3a68e6"/>
<circle cx="80.80" cy="329.70" r="1.7" fill="#dca02a"/>
<circle cx="78.60" cy="334.00" r="1.7" fill="#dca02a"/>
<circle cx="79.90" cy="337.30" r="1.8" fill="#3a68e6"/>
<circle cx="80.50" cy="346.80" r="1.3" fill="#2ec02e"/>
<circle cx="82.00" cy="362.50" r="2.0" fill="#2ec02e"/>
<text x="48.40" y="274.90" font-size="5.3" text-anchor="middle" fill="#b54be0" font-weight="normal" dominant-baseline="central" transform="matrix(1,0,0,1.1,0,-27.490)" >0.62</text>
<text x="93.20" y="281.90" font-size="5.3" text-anchor="middle" fill="#b54be0" font-weight="normal" dominant-baseline="central" transform="matrix(1,0,0,1.1,0,-28.190)" >0.78</text>
<text x="48.60" y="287.80" font-size="5.3" text-anchor="middle" fill="#dc1840" font-weight="normal" dominant-baseline="central" transform="matrix(1,0,0,1.1,0,-28.780)" >0.99</text>
<text x="93.40" y="298.70" font-size="5.3" text-anchor="middle" fill="#dc1840" font-weight="normal" dominant-baseline="central" transform="matrix(1,0,0,1.1,0,-29.870)" >0.75</text>
<text x="94.00" y="320.50" font-size="5.3" text-anchor="middle" fill="#3a68e6" font-weight="normal" dominant-baseline="central" transform="matrix(1,0,0,1.1,0,-32.050)" >0.62</text>
<text x="94.00" y="331.00" font-size="5.3" text-anchor="middle" fill="#dca02a" font-weight="normal" dominant-baseline="central" transform="matrix(1,0,0,1.1,0,-33.100)" >0.56</text>
<text x="50.40" y="332.30" font-size="5.3" text-anchor="middle" fill="#dca02a" font-weight="normal" dominant-baseline="central" transform="matrix(1,0,0,1.1,0,-33.230)" >0.57</text>
<text x="50.40" y="338.00" font-size="5.3" text-anchor="middle" fill="#3a68e6" font-weight="normal" dominant-baseline="central" transform="matrix(1,0,0,1.1,0,-33.800)" >0.72</text>
<text x="50.40" y="347.20" font-size="5.3" text-anchor="middle" fill="#2ec02e" font-weight="normal" dominant-baseline="central" transform="matrix(1,0,0,1.1,0,-34.720)" >0.38</text>
<text x="94.00" y="363.00" font-size="5.3" text-anchor="middle" fill="#2ec02e" font-weight="normal" dominant-baseline="central" transform="matrix(1,0,0,1.1,0,-36.300)" >0.75</text>
<line x1="59.50" y1="339.10" x2="78.60" y2="339.10" stroke="#111" stroke-width="0.7" stroke-dasharray="0.7 0.7"/>
<text x="70.50" y="336.60" font-size="3.4" text-anchor="middle" fill="#444" font-weight="normal" dominant-baseline="central" transform="matrix(1,0,0,1.1,0,-33.660)" >visual</text>
<text x="85.80" y="325.00" font-size="3.4" text-anchor="middle" fill="#444" font-weight="normal" dominant-baseline="central"  transform="rotate(-28 85.8 325.0)">visual</text>
<polyline points="38.60,395.50 43.10,401.00 48.30,406.20 53.50,412.50 56.60,418.70 60.80,427.00 65.00,434.30 69.10,440.50 71.20,445.70 72.80,452.00 73.70,455.10 73.90,459.90 75.30,464.00 75.30,473.80" fill="none" stroke="#4c4c4c" stroke-width="0.55" stroke-linejoin="round" stroke-linecap="round" />
<polyline points="39.80,395.50 44.00,401.20 49.00,406.80 54.20,413.00 57.20,419.20 61.50,427.50 65.60,434.60 70.00,440.80 72.50,444.50 74.30,449.90 77.40,464.40 79.50,474.80 80.50,484.80 81.20,493.60 81.60,501.90 81.60,508.00" fill="none" stroke="#4c4c4c" stroke-width="0.55" stroke-linejoin="round" stroke-linecap="round" />
<circle cx="53.90" cy="412.50" r="1.6" fill="#b54be0"/>
<circle cx="70.80" cy="440.50" r="1.6" fill="#b54be0"/>
<circle cx="69.10" cy="441.20" r="1.6" fill="#dc1840"/>
<circle cx="73.70" cy="455.10" r="1.5" fill="#3a68e6"/>
<circle cx="73.90" cy="459.90" r="1.5" fill="#dca02a"/>
<circle cx="77.40" cy="466.50" r="1.4" fill="#3a68e6"/>
<circle cx="78.00" cy="467.60" r="1.5" fill="#dc1840"/>
<circle cx="75.30" cy="468.20" r="1.3" fill="#2ec02e"/>
<circle cx="80.50" cy="484.80" r="1.3" fill="#dca02a"/>
<circle cx="81.60" cy="501.90" r="1.3" fill="#2ec02e"/>
<polyline points="131.90,9.75 135.70,15.70 140.00,22.20 143.75,28.10 147.70,33.20 152.10,36.40 158.60,39.70 164.10,44.10 168.50,47.40 174.00,51.75 179.40,59.40 182.70,66.00 185.30,73.60 186.50,77.00 188.30,83.00 189.50,89.80 189.80,97.00 190.50,107.80 192.00,115.70 192.70,121.50" fill="none" stroke="#4c4c4c" stroke-width="0.55" stroke-linejoin="round" stroke-linecap="round" />
<polyline points="132.30,9.75 136.20,16.00 140.40,22.50 144.20,28.50 149.90,35.60 156.40,40.40 165.20,46.30 171.75,50.70 176.10,55.00 180.00,60.50 183.00,67.00 185.60,74.00 187.00,78.00 188.70,84.00 189.80,90.50 190.10,97.50 190.80,108.00 192.30,116.00 192.90,121.50" fill="none" stroke="#4c4c4c" stroke-width="0.55" stroke-linejoin="round" stroke-linecap="round" />
<circle cx="140.00" cy="22.20" r="1.4" fill="#b54be0"/>
<circle cx="143.75" cy="28.10" r="1.4" fill="#b54be0"/>
<circle cx="168.50" cy="47.40" r="1.4" fill="#b54be0"/>
<circle cx="186.10" cy="76.40" r="1.8" fill="#dc1840"/>
<circle cx="188.50" cy="82.50" r="1.4" fill="#3a68e6"/>
<circle cx="189.60" cy="90.20" r="1.5" fill="#2ec02e"/>
<circle cx="190.30" cy="107.00" r="1.2" fill="#dca02a"/>
<circle cx="190.70" cy="110.80" r="1.2" fill="#dca02a"/>
<circle cx="192.40" cy="115.80" r="1.3" fill="#2ec02e"/>
<polyline points="129.50,136.90 133.50,137.00 137.80,141.00 143.00,146.00 147.70,150.80 154.00,156.00 161.90,162.80 168.00,171.00 173.00,180.00 176.40,184.50 180.90,191.30 184.30,200.30 186.60,211.50 188.40,225.00 188.80,249.60" fill="none" stroke="#4c4c4c" stroke-width="0.55" stroke-linejoin="round" stroke-linecap="round" />
<polyline points="130.50,136.90 138.50,142.50 145.00,148.00 151.00,154.50 157.00,157.50 162.50,163.50 168.50,172.00 173.40,180.50 177.00,185.00 181.40,191.60 184.80,200.50 187.00,212.00 188.80,225.50 189.20,249.60" fill="none" stroke="#4c4c4c" stroke-width="0.55" stroke-linejoin="round" stroke-linecap="round" />
<circle cx="137.00" cy="140.00" r="1.2" fill="#b54be0"/>
<circle cx="161.90" cy="163.50" r="1.4" fill="#b54be0"/>
<circle cx="180.25" cy="191.30" r="1.5" fill="#dc1840"/>
<circle cx="181.60" cy="195.80" r="1.4" fill="#dc1840"/>
<circle cx="184.75" cy="200.30" r="1.9" fill="#3a68e6"/>
<circle cx="183.2" cy="202.5" r="1.0" fill="#fff" stroke="#999" stroke-width="0.4"/>
<circle cx="186.60" cy="215.40" r="1.4" fill="#3a68e6"/>
<circle cx="187.00" cy="218.70" r="1.3" fill="#dca02a"/>
<circle cx="187.90" cy="223.20" r="1.4" fill="#dca02a"/>
<circle cx="188.40" cy="227.30" r="1.3" fill="#3a68e6"/>
<circle cx="188.80" cy="228.40" r="1.1" fill="#2ec02e"/>
<circle cx="188.80" cy="238.10" r="1.1" fill="#2ec02e"/>
<circle cx="188.80" cy="243.70" r="1.0" fill="#2ec02e"/>
<polyline points="130.90,263.50 136.70,277.60 142.60,290.50 148.40,297.50 153.10,304.50 159.00,311.60 162.50,318.60 167.20,329.10 169.50,335.00 171.10,344.80 172.90,356.00 173.00,370.40" fill="none" stroke="#4c4c4c" stroke-width="0.55" stroke-linejoin="round" stroke-linecap="round" />
<circle cx="159.00" cy="311.60" r="1.3" fill="#b54be0"/>
<circle cx="161.80" cy="317.40" r="1.3" fill="#b54be0"/>
<circle cx="163.20" cy="320.50" r="1.4" fill="#dc1840"/>
<circle cx="167.20" cy="329.10" r="1.4" fill="#dc1840"/>
<circle cx="171.90" cy="346.50" r="1.8" fill="#dca02a"/>
<circle cx="173.50" cy="349.30" r="1.3" fill="#3a68e6"/>
<circle cx="173.00" cy="356.80" r="1.2" fill="#2ec02e"/>
<circle cx="173.00" cy="366.40" r="1.2" fill="#2ec02e"/>
<polyline points="129.30,408.80 134.00,413.00 139.00,418.10 144.00,424.50 149.50,432.20 152.50,436.50 155.40,440.40 158.50,444.50 161.80,449.00 164.50,453.50 166.30,458.00 168.00,462.50 169.20,467.00 170.50,472.00 172.50,484.00 174.00,496.00 174.20,507.60" fill="none" stroke="#4c4c4c" stroke-width="0.55" stroke-linejoin="round" stroke-linecap="round" />
<polyline points="129.30,410.00 133.50,414.50 138.50,419.50 143.50,426.50 148.50,433.20 152.50,437.80 156.50,441.60 160.00,445.50 163.60,449.00 166.00,453.50 167.40,458.00 169.00,462.50 170.20,467.00 171.20,472.00 173.20,485.00 174.50,498.00 174.60,507.60" fill="none" stroke="#4c4c4c" stroke-width="0.55" stroke-linejoin="round" stroke-linecap="round" />
<polyline points="129.60,409.30 135.00,414.00 140.50,419.00 146.00,426.00 150.50,432.40 154.00,436.80 157.50,440.50 161.50,444.50 165.20,449.00 167.50,453.50 169.00,458.00 170.50,462.00 171.50,466.00 171.80,472.00" fill="none" stroke="#4c4c4c" stroke-width="0.55" stroke-linejoin="round" stroke-linecap="round" />
<circle cx="139.70" cy="419.30" r="1.3" fill="#b54be0"/>
<circle cx="149.50" cy="432.20" r="1.3" fill="#b54be0"/>
<circle cx="171.90" cy="472.20" r="1.4" fill="#dc1840"/>
<circle cx="170.30" cy="473.30" r="1.5" fill="#3a68e6"/>
<circle cx="171.50" cy="480.00" r="1.3" fill="#dca02a"/>
<circle cx="172.60" cy="482.80" r="1.2" fill="#dca02a"/>
<circle cx="172.60" cy="486.20" r="1.3" fill="#dca02a"/>
<circle cx="174.60" cy="491.40" r="1.4" fill="#3a68e6"/>
<circle cx="173.70" cy="494.00" r="1.3" fill="#2ec02e"/>
<circle cx="174.20" cy="499.70" r="1.2" fill="#3a68e6"/>
<defs>
<filter id="nz" x="0" y="0" width="100%" height="100%">
 <feTurbulence type="fractalNoise" baseFrequency="0.7" numOctaves="2" seed="3"/>
 <feColorMatrix type="matrix" values="0 0 0 0 0.72  0 0 0 0 0.72  0 0 0 0 0.76  2.2 0 0 0 -0.95" />
</filter>
<filter id="nz2" x="0" y="0" width="100%" height="100%">
 <feTurbulence type="fractalNoise" baseFrequency="0.45" numOctaves="2" seed="7"/>
 <feColorMatrix type="matrix" values="0 0 0 0 0.8  0 0 0 0 0.8  0 0 0 0 0.82  1.9 0 0 0 -0.82" />
</filter>
<filter id="nzi" x="0" y="0" width="100%" height="100%">
 <feTurbulence type="fractalNoise" baseFrequency="0.16 0.1" numOctaves="2" seed="11"/>
 <feColorMatrix type="matrix" values="1.6 0 0 0 -0.1  1.6 0 0 0 -0.1  1.6 0 0 0 -0.1  0 0 0 0 0.35" />
</filter>
<filter id="bl" x="-50%" y="-50%" width="200%" height="200%"><feGaussianBlur stdDeviation="1.2"/></filter>
<linearGradient id="cb" x1="0" y1="0" x2="0" y2="1">
 <stop offset="0" stop-color="#1f6f9f"/><stop offset="0.25" stop-color="#5cc0b0"/><stop offset="0.45" stop-color="#b8e08a"/>
 <stop offset="0.62" stop-color="#f3ec90"/><stop offset="0.8" stop-color="#f6a95a"/><stop offset="1" stop-color="#d8282a"/>
</linearGradient>
<linearGradient id="insg" x1="0" y1="0" x2="1" y2="0">
 <stop offset="0" stop-color="#b4b4b4"/><stop offset="0.3" stop-color="#bcbcbc"/><stop offset="0.5" stop-color="#c8c8c8"/><stop offset="1" stop-color="#cccccc"/>
</linearGradient>
</defs>
<rect x="219.4" y="9.7" width="80.30" height="114.20" fill="#fff"/>
<rect x="219.4" y="9.7" width="80.30" height="114.20" filter="url(#nz2)"/>
<line x1="219.40" y1="26.00" x2="299.70" y2="26.00" stroke="#e4e4e4" stroke-width="0.5" />
<line x1="219.40" y1="72.50" x2="299.70" y2="72.50" stroke="#e4e4e4" stroke-width="0.5" />
<line x1="247.30" y1="9.70" x2="247.30" y2="123.90" stroke="#e4e4e4" stroke-width="0.5" />
<polyline points="219.40,11.40 230.80,21.20 234.20,25.00 242.00,35.00 250.50,45.50" fill="none" stroke="#f9cf8e" stroke-width="3.1" stroke-linejoin="round" stroke-linecap="round" />
<polyline points="250.50,45.50 253.50,49.60 256.25,53.40" fill="none" stroke="#f0e592" stroke-width="3.0" stroke-linejoin="round" stroke-linecap="round" />
<polyline points="256.25,53.40 273.10,79.70 284.40,97.50 290.00,106.50" fill="none" stroke="#c8e8a2" stroke-width="2.8" stroke-linejoin="round" stroke-linecap="round" />
<polyline points="290.00,106.50 298.40,123.20" fill="none" stroke="#f2e49a" stroke-width="2.8" stroke-linejoin="round" stroke-linecap="round" />
<line x1="261.80" y1="61.90" x2="263.20" y2="64.10" stroke="#3aa0a0" stroke-width="0.8" />
<line x1="272.10" y1="77.40" x2="273.50" y2="79.60" stroke="#3aa0a0" stroke-width="0.8" />
<line x1="280.30" y1="90.90" x2="281.70" y2="93.10" stroke="#3aa0a0" stroke-width="0.8" />
<rect x="227.6" y="21.5" width="4.6" height="13.4" rx="2" fill="#f9cf8e"/>
<path d="M228.85,22.15 L232.75,22.15 L230.80,18.85Z" fill="#000"/>
<text x="234.00" y="19.10" font-size="5.6" text-anchor="start" fill="#111" font-weight="bold" dominant-baseline="central" transform="matrix(1,0,0,1.1,0,-1.910)" >(e) Leg 3 Site 4</text>
<line x1="288.40" y1="13.60" x2="288.40" y2="15.00" stroke="#5a9be6" stroke-width="1.1" />
<line x1="288.40" y1="25.60" x2="288.40" y2="123.50" stroke="#5a9be6" stroke-width="1.1" stroke-dasharray="1.1 2.4"/>
<circle cx="288.20" cy="88.50" r="1.35" fill="#444" stroke="#1a1a1a" stroke-width="0.5"/>
<circle cx="288.20" cy="96.10" r="1.35" fill="#444" stroke="#1a1a1a" stroke-width="0.5"/>
<text x="295.20" y="91.00" font-size="6.0" text-anchor="middle" fill="#111" font-weight="bold" dominant-baseline="central" transform="matrix(1,0,0,1.1,0,-9.100)" >(a)</text>
<text x="295.80" y="13.60" font-size="6.4" text-anchor="middle" fill="#2a2a2a" font-weight="normal" dominant-baseline="central" transform="matrix(1,0,0,1.1,0,-1.360)" >(i)</text>
<rect x="223.5" y="46.3" width="32.5" height="38.8" fill="#fff" stroke="#444" stroke-width="0.6"/>
<path d="M228.70,49.80 L230.70,49.80 L229.70,48.00Z" fill="#000"/>
<text x="232.00" y="49.30" font-size="4.3" text-anchor="start" fill="#222" font-weight="normal" dominant-baseline="central" transform="matrix(1,0,0,1.1,0,-4.930)" >TPT site</text>
<circle cx="229.70" cy="52.80" r="0.9" fill="#444"/>
<text x="232.00" y="53.20" font-size="4.3" text-anchor="start" fill="#222" font-weight="normal" dominant-baseline="central" transform="matrix(1,0,0,1.1,0,-5.320)" >GO-SHIP</text>
<text x="232.30" y="58.60" font-size="4.2" text-anchor="start" fill="#222" font-weight="normal" dominant-baseline="central" transform="matrix(1,0,0,1.1,0,-5.860)" >site in figure</text>
<circle cx="228.20" cy="63.30" r="0.6" fill="#6aa6ee"/>
<text x="231.30" y="63.60" font-size="4.3" text-anchor="start" fill="#222" font-weight="normal" dominant-baseline="central" transform="matrix(1,0,0,1.1,0,-6.360)" >GO-SHIP</text>
<rect x="226.1" y="66.2" width="2.9" height="14.8" fill="url(#cb)"/>
<text x="231.00" y="67.30" font-size="4.2" text-anchor="start" fill="#222" font-weight="normal" dominant-baseline="central" transform="matrix(1,0,0,1.1,0,-6.730)" >3000</text>
<text x="234.70" y="73.40" font-size="4.6" text-anchor="start" fill="#222" font-weight="normal" dominant-baseline="central" transform="matrix(1,0,0,1.1,0,-7.340)" >Depth (m)</text>
<text x="231.00" y="81.20" font-size="4.2" text-anchor="start" fill="#222" font-weight="normal" dominant-baseline="central" transform="matrix(1,0,0,1.1,0,-8.120)" >6000</text>
<rect x="224.0" y="88.7" width="32.50" height="31.90" fill="url(#insg)"/>
<rect x="224.0" y="88.7" width="32.50" height="31.90" filter="url(#nzi)" opacity="0.8"/>
<path d="M224.5,108.478 L228.5,114.22" stroke="#e8e8e8" stroke-width="1.4" opacity="0.55"/>
<path d="M225.0,93.485 L229.5,99.865" stroke="#dcdcdc" stroke-width="1.1" opacity="0.45"/>
<line x1="224.00" y1="90.70" x2="254.00" y2="90.70" stroke="#5e5e5e" stroke-width="0.85" />
<line x1="232.40" y1="90.70" x2="232.40" y2="120.60" stroke="#5e5e5e" stroke-width="0.7" />
<circle cx="244.08" cy="113.19" r="0.3" fill="#666"/>
<circle cx="239.01" cy="107.92" r="0.3" fill="#666"/>
<circle cx="242.66" cy="115.53" r="0.3" fill="#666"/>
<circle cx="236.47" cy="102.47" r="0.3" fill="#666"/>
<circle cx="234.33" cy="107.96" r="0.3" fill="#666"/>
<circle cx="240.76" cy="107.77" r="0.3" fill="#666"/>
<circle cx="239.49" cy="95.91" r="0.3" fill="#666"/>
<circle cx="239.70" cy="113.91" r="0.3" fill="#666"/>
<circle cx="236.82" cy="103.90" r="0.3" fill="#666"/>
<circle cx="240.07" cy="94.94" r="0.3" fill="#666"/>
<circle cx="241.28" cy="99.02" r="0.3" fill="#666"/>
<circle cx="242.28" cy="103.80" r="0.3" fill="#666"/>
<circle cx="238.40" cy="115.90" r="0.3" fill="#666"/>
<circle cx="236.98" cy="99.44" r="0.3" fill="#666"/>
<circle cx="243.43" cy="97.20" r="0.3" fill="#666"/>
<circle cx="242.77" cy="99.78" r="0.3" fill="#666"/>
<rect x="231.0" y="108.5" width="1.8" height="3.5" fill="#e05050"/>
<rect x="219.4" y="9.7" width="80.30" height="114.20" fill="none" stroke="#b4b4b4" stroke-width="0.9"/>
<text x="244.85" y="5.90" font-size="6.3" text-anchor="middle" fill="#2a2a2a" font-weight="normal" dominant-baseline="central" transform="matrix(1,0,0,1.1,0,-0.590)" >153 °W</text>
<text x="290.10" y="5.80" font-size="6.3" text-anchor="middle" fill="#2a2a2a" font-weight="normal" dominant-baseline="central" transform="matrix(1,0,0,1.1,0,-0.580)" >151 °W</text>
<text x="301.00" y="25.40" font-size="6.3" text-anchor="start" fill="#2a2a2a" font-weight="normal" dominant-baseline="central" transform="matrix(1,0,0,1.1,0,-2.540)" >3 °N</text>
<text x="301.00" y="71.90" font-size="6.3" text-anchor="start" fill="#2a2a2a" font-weight="normal" dominant-baseline="central" transform="matrix(1,0,0,1.1,0,-7.190)" >1 °N</text>
<text x="301.00" y="119.20" font-size="6.3" text-anchor="start" fill="#2a2a2a" font-weight="normal" dominant-baseline="central" transform="matrix(1,0,0,1.1,0,-11.920)" >1 °S</text>
<text x="232.80" y="132.60" font-size="6.3" text-anchor="middle" fill="#2a2a2a" font-weight="normal" dominant-baseline="central" transform="matrix(1,0,0,1.1,0,-13.260)" >154 °W</text>
<text x="286.60" y="132.60" font-size="6.3" text-anchor="middle" fill="#2a2a2a" font-weight="normal" dominant-baseline="central" transform="matrix(1,0,0,1.1,0,-13.260)" >152 °W</text>
<rect x="219.7" y="137.5" width="80.00" height="114.40" fill="#fff"/>
<rect x="219.7" y="137.5" width="80.00" height="114.40" filter="url(#nz2)"/>
<line x1="219.70" y1="148.00" x2="299.70" y2="148.00" stroke="#e6e6e6" stroke-width="0.5" />
<line x1="219.70" y1="176.00" x2="299.70" y2="176.00" stroke="#e6e6e6" stroke-width="0.5" />
<line x1="219.70" y1="203.00" x2="299.70" y2="203.00" stroke="#e6e6e6" stroke-width="0.5" />
<line x1="219.70" y1="230.50" x2="299.70" y2="230.50" stroke="#e6e6e6" stroke-width="0.5" />
<line x1="260.00" y1="137.50" x2="260.00" y2="251.90" stroke="#e6e6e6" stroke-width="0.5" />
<polyline points="231.50,137.60 231.80,170.00 232.40,199.00" fill="none" stroke="#f6a860" stroke-width="3.2" stroke-linejoin="round" stroke-linecap="round" />
<rect x="226.7" y="197.6" width="10.3" height="9.9" rx="3.2" fill="#f8b878"/>
<rect x="228.2" y="198.8" width="7.4" height="7.6" rx="2.2" fill="#f6a860"/>
<polyline points="234.60,205.00 235.60,208.75 240.50,229.00 246.90,251.60" fill="none" stroke="#f6a860" stroke-width="3.4" stroke-linejoin="round" stroke-linecap="round" />
<circle cx="238.60" cy="237.00" r="0.8" fill="#f8c890"/>
<circle cx="243.50" cy="246.00" r="0.8" fill="#f8c890"/>
<path d="M231.40,203.40 L235.60,203.40 L233.50,200.00Z" fill="#000"/>
<text x="236.20" y="201.80" font-size="5.6" text-anchor="start" fill="#111" font-weight="bold" dominant-baseline="central" transform="matrix(1,0,0,1.1,0,-20.180)" >(f) Leg 2 Site 3</text>
<circle cx="270.70" cy="139.00" r="0.55" fill="#5c9ff0"/>
<circle cx="273.10" cy="152.50" r="0.55" fill="#5c9ff0"/>
<circle cx="275.60" cy="166.20" r="0.55" fill="#5c9ff0"/>
<circle cx="283.40" cy="206.00" r="0.55" fill="#5c9ff0"/>
<circle cx="285.90" cy="219.60" r="0.55" fill="#5c9ff0"/>
<circle cx="288.50" cy="232.75" r="0.55" fill="#5c9ff0"/>
<circle cx="291.30" cy="246.25" r="0.55" fill="#5c9ff0"/>
<circle cx="277.80" cy="179.70" r="1.35" fill="#444" stroke="#1a1a1a" stroke-width="0.5"/>
<circle cx="280.60" cy="192.80" r="1.35" fill="#444" stroke="#1a1a1a" stroke-width="0.5"/>
<text x="285.80" y="185.40" font-size="6.0" text-anchor="middle" fill="#111" font-weight="bold" dominant-baseline="central" transform="matrix(1,0,0,1.1,0,-18.540)" >(b)</text>
<text x="295.80" y="142.10" font-size="6.4" text-anchor="middle" fill="#2a2a2a" font-weight="normal" dominant-baseline="central" transform="matrix(1,0,0,1.1,0,-14.210)" >(j)</text>
<rect x="222.1" y="140.3" width="31.90" height="30.95" fill="url(#insg)"/>
<rect x="222.1" y="140.3" width="31.90" height="30.95" filter="url(#nzi)" opacity="0.8"/>
<path d="M222.6,159.489 L226.6,165.06" stroke="#e8e8e8" stroke-width="1.4" opacity="0.55"/>
<path d="M223.1,144.9425 L227.6,151.1325" stroke="#dcdcdc" stroke-width="1.1" opacity="0.45"/>
<line x1="222.10" y1="142.30" x2="251.50" y2="142.30" stroke="#5e5e5e" stroke-width="0.85" />
<line x1="229.60" y1="142.30" x2="229.60" y2="171.25" stroke="#5e5e5e" stroke-width="0.7" />
<circle cx="232.09" cy="158.79" r="0.3" fill="#666"/>
<circle cx="237.47" cy="145.32" r="0.3" fill="#666"/>
<circle cx="231.60" cy="151.02" r="0.3" fill="#666"/>
<circle cx="234.17" cy="154.76" r="0.3" fill="#666"/>
<circle cx="234.00" cy="164.92" r="0.3" fill="#666"/>
<circle cx="237.49" cy="167.98" r="0.3" fill="#666"/>
<circle cx="234.17" cy="159.20" r="0.3" fill="#666"/>
<circle cx="233.79" cy="161.41" r="0.3" fill="#666"/>
<circle cx="236.50" cy="154.20" r="0.3" fill="#666"/>
<circle cx="239.94" cy="169.18" r="0.3" fill="#666"/>
<circle cx="236.22" cy="163.18" r="0.3" fill="#666"/>
<circle cx="235.62" cy="143.88" r="0.3" fill="#666"/>
<circle cx="241.32" cy="153.56" r="0.3" fill="#666"/>
<circle cx="233.80" cy="161.11" r="0.3" fill="#666"/>
<circle cx="238.59" cy="148.90" r="0.3" fill="#666"/>
<circle cx="240.98" cy="161.31" r="0.3" fill="#666"/>
<rect x="227.6" y="151.5" width="1.8" height="4" fill="#e05050"/>
<rect x="219.7" y="137.5" width="80.00" height="114.40" fill="none" stroke="#b4b4b4" stroke-width="0.9"/>
<text x="301.00" y="149.20" font-size="6.3" text-anchor="start" fill="#2a2a2a" font-weight="normal" dominant-baseline="central" transform="matrix(1,0,0,1.1,0,-14.920)" >13 °N</text>
<text x="301.00" y="176.40" font-size="6.3" text-anchor="start" fill="#2a2a2a" font-weight="normal" dominant-baseline="central" transform="matrix(1,0,0,1.1,0,-17.640)" >12 °N</text>
<text x="301.00" y="202.90" font-size="6.3" text-anchor="start" fill="#2a2a2a" font-weight="normal" dominant-baseline="central" transform="matrix(1,0,0,1.1,0,-20.290)" >11 °N</text>
<text x="301.00" y="230.40" font-size="6.3" text-anchor="start" fill="#2a2a2a" font-weight="normal" dominant-baseline="central" transform="matrix(1,0,0,1.1,0,-23.040)" >10 °N</text>
<text x="236.75" y="261.70" font-size="6.3" text-anchor="middle" fill="#2a2a2a" font-weight="normal" dominant-baseline="central" transform="matrix(1,0,0,1.1,0,-26.170)" >136 °W</text>
<text x="290.90" y="261.70" font-size="6.3" text-anchor="middle" fill="#2a2a2a" font-weight="normal" dominant-baseline="central" transform="matrix(1,0,0,1.1,0,-26.170)" >132 °W</text>
<rect x="219.3" y="265.5" width="80.70" height="116.70" fill="#f2f2f3"/>
<rect x="219.3" y="265.5" width="80.70" height="116.70" filter="url(#nz)"/>
<line x1="219.30" y1="309.20" x2="300.00" y2="309.20" stroke="#dcdcdc" stroke-width="0.5" />
<line x1="219.30" y1="336.30" x2="300.00" y2="336.30" stroke="#dcdcdc" stroke-width="0.5" />
<line x1="247.00" y1="265.50" x2="247.00" y2="382.20" stroke="#dcdcdc" stroke-width="0.5" />
<line x1="219.30" y1="282.50" x2="300.00" y2="282.50" stroke="#80b0f0" stroke-width="0.85" stroke-dasharray="3.2 1.8 1.0 1.8"/>
<circle cx="237.40" cy="282.50" r="1.2" fill="#666" stroke="#1a1a1a" stroke-width="0.5"/>
<circle cx="243.00" cy="282.50" r="1.2" fill="#666" stroke="#1a1a1a" stroke-width="0.5"/>
<text x="240.90" y="277.50" font-size="5.4" text-anchor="middle" fill="#111" font-weight="bold" dominant-baseline="central" transform="matrix(1,0,0,1.1,0,-27.750)" >(c)</text>
<polyline points="219.10,324.70 231.50,324.70 240.30,302.75 252.50,305.00 260.00,305.00 267.50,306.90 280.60,304.60 300.00,302.20" fill="none" stroke="#f6e28e" stroke-width="1.4" stroke-linejoin="round" stroke-linecap="round" />
<polyline points="219.10,324.70 231.50,324.70 233.00,321.00" fill="none" stroke="#f7d071" stroke-width="1.4" stroke-linejoin="round" stroke-linecap="round" />
<line x1="241.50" y1="303.00" x2="257.00" y2="305.00" stroke="#9ad68e" stroke-width="1.4" stroke-dasharray="1.6 1.2"/>
<line x1="275.00" y1="305.60" x2="284.00" y2="304.10" stroke="#9ad68e" stroke-width="1.4" stroke-dasharray="1.6 1.2"/>
<polyline points="232.80,381.80 233.75,369.70 246.90,370.00 268.20,369.60 285.00,365.80 299.70,359.30" fill="none" stroke="#f7b86e" stroke-width="1.4" stroke-linejoin="round" stroke-linecap="round" />
<polyline points="268.10,371.40 265.40,377.40" fill="none" stroke="#f8c88e" stroke-width="2.5" stroke-linejoin="round" stroke-linecap="round" />
<path d="M233.6,368.6 L239.5,368.4 L244.2,370.6 L243,375.2 L238.5,376.4 L235,375.6 L233.8,372 Z" fill="#f9cf95"/>
<circle cx="235.50" cy="371.40" r="1.0" fill="#7cc0b0"/>
<circle cx="240.00" cy="372.80" r="1.1" fill="#7cc0b0"/>
<path d="M266.95,371.70 L271.05,371.70 L269.00,368.30Z" fill="#000"/>
<text x="260.00" y="362.90" font-size="5.6" text-anchor="start" fill="#111" font-weight="bold" dominant-baseline="central" transform="matrix(1,0,0,1.1,0,-36.290)" >(g) Leg 4 Site 5</text>
<text x="296.40" y="269.20" font-size="6.4" text-anchor="middle" fill="#2a2a2a" font-weight="normal" dominant-baseline="central" transform="matrix(1,0,0,1.1,0,-26.920)" >(k)</text>
<rect x="222.1" y="332.2" width="33.20" height="33.80" fill="url(#insg)"/>
<rect x="222.1" y="332.2" width="33.20" height="33.80" filter="url(#nzi)" opacity="0.8"/>
<path d="M222.6,353.156 L226.6,359.24" stroke="#e8e8e8" stroke-width="1.4" opacity="0.55"/>
<path d="M223.1,337.27 L227.6,344.03" stroke="#dcdcdc" stroke-width="1.1" opacity="0.45"/>
<line x1="222.10" y1="334.20" x2="252.80" y2="334.20" stroke="#5e5e5e" stroke-width="0.85" />
<line x1="230.40" y1="334.20" x2="230.40" y2="366.00" stroke="#5e5e5e" stroke-width="0.7" />
<circle cx="232.27" cy="350.04" r="0.3" fill="#666"/>
<circle cx="239.51" cy="360.64" r="0.3" fill="#666"/>
<circle cx="239.06" cy="361.81" r="0.3" fill="#666"/>
<circle cx="242.06" cy="344.84" r="0.3" fill="#666"/>
<circle cx="235.07" cy="350.83" r="0.3" fill="#666"/>
<circle cx="236.84" cy="343.28" r="0.3" fill="#666"/>
<circle cx="237.02" cy="353.65" r="0.3" fill="#666"/>
<circle cx="233.92" cy="344.40" r="0.3" fill="#666"/>
<circle cx="232.14" cy="361.72" r="0.3" fill="#666"/>
<circle cx="236.67" cy="355.86" r="0.3" fill="#666"/>
<circle cx="239.65" cy="356.56" r="0.3" fill="#666"/>
<circle cx="237.71" cy="338.58" r="0.3" fill="#666"/>
<circle cx="233.46" cy="343.97" r="0.3" fill="#666"/>
<circle cx="234.12" cy="361.80" r="0.3" fill="#666"/>
<circle cx="232.69" cy="353.44" r="0.3" fill="#666"/>
<circle cx="233.90" cy="342.53" r="0.3" fill="#666"/>
<rect x="240.3" y="334.6" width="3.7" height="5.1" fill="#e88a8a"/>
<rect x="219.3" y="265.5" width="80.70" height="116.70" fill="none" stroke="#b4b4b4" stroke-width="0.9"/>
<text x="302.00" y="281.90" font-size="6.3" text-anchor="start" fill="#2a2a2a" font-weight="normal" dominant-baseline="central" transform="matrix(1,0,0,1.1,0,-28.190)" >32 °N</text>
<text x="302.00" y="308.60" font-size="6.3" text-anchor="start" fill="#2a2a2a" font-weight="normal" dominant-baseline="central" transform="matrix(1,0,0,1.1,0,-30.860)" >28 °N</text>
<text x="302.00" y="335.80" font-size="6.3" text-anchor="start" fill="#2a2a2a" font-weight="normal" dominant-baseline="central" transform="matrix(1,0,0,1.1,0,-33.580)" >26 °N</text>
<text x="302.00" y="364.00" font-size="6.3" text-anchor="start" fill="#2a2a2a" font-weight="normal" dominant-baseline="central" transform="matrix(1,0,0,1.1,0,-36.400)" >24 °N</text>
<text x="237.80" y="389.90" font-size="6.3" text-anchor="middle" fill="#2a2a2a" font-weight="normal" dominant-baseline="central" transform="matrix(1,0,0,1.1,0,-38.990)" >124 °W</text>
<text x="290.90" y="390.00" font-size="6.3" text-anchor="middle" fill="#2a2a2a" font-weight="normal" dominant-baseline="central" transform="matrix(1,0,0,1.1,0,-39.000)" >122 °W</text>
<rect x="219.7" y="395.0" width="80.60" height="115.60" fill="#fff"/>
<rect x="219.7" y="395.0" width="80.60" height="115.60" filter="url(#nz2)"/>
<ellipse cx="255" cy="450" rx="3.5" ry="2.2" fill="#dadada" filter="url(#bl)"/>
<ellipse cx="267.5" cy="455" rx="3" ry="2" fill="#dadada" filter="url(#bl)"/>
<ellipse cx="287.5" cy="452.5" rx="3.5" ry="2.2" fill="#dadada" filter="url(#bl)"/>
<ellipse cx="233" cy="466" rx="4.5" ry="1.6" fill="#dadada" filter="url(#bl)"/>
<ellipse cx="275" cy="437" rx="3" ry="1.5" fill="#dadada" filter="url(#bl)"/>
<line x1="219.70" y1="439.10" x2="300.30" y2="439.10" stroke="#e6e6e6" stroke-width="0.5" />
<line x1="219.70" y1="466.60" x2="300.30" y2="466.60" stroke="#e6e6e6" stroke-width="0.5" />
<line x1="219.70" y1="493.40" x2="300.30" y2="493.40" stroke="#e6e6e6" stroke-width="0.5" />
<line x1="262.00" y1="395.00" x2="262.00" y2="510.60" stroke="#e6e6e6" stroke-width="0.5" />
<path d="M219.7,395 L223.6,395 L222.2,405 L221.4,415 L219.7,417 Z" fill="#d6eba4"/>
<polyline points="220.50,417.40 240.00,418.30 260.00,419.10 300.30,420.60" fill="none" stroke="#d2eaa4" stroke-width="3.3" stroke-linejoin="round" stroke-linecap="round" />
<polyline points="262.00,419.20 300.30,420.60" fill="none" stroke="#c2e49a" stroke-width="3.3" stroke-linejoin="round" stroke-linecap="round" />
<circle cx="237.50" cy="418.80" r="0.8" fill="#3a9aa0"/>
<circle cx="277.80" cy="420.40" r="0.9" fill="#3a8aa0"/>
<circle cx="271.00" cy="420.20" r="1.0" fill="#f3ef9a"/>
<circle cx="283.00" cy="420.50" r="1.0" fill="#f3ef9a"/>
<polyline points="256.40,510.30 268.00,504.00 282.90,496.90" fill="none" stroke="#deeea2" stroke-width="3.4" stroke-linejoin="round" stroke-linecap="round" />
<path d="M221.80,417.30 L226.00,417.30 L223.90,413.90Z" fill="#000"/>
<text x="224.80" y="412.00" font-size="5.6" text-anchor="start" fill="#111" font-weight="bold" dominant-baseline="central" transform="matrix(1,0,0,1.1,0,-41.200)" >(h) Leg 5 Site 1</text>
<circle cx="241.25" cy="466.60" r="1.35" fill="#444" stroke="#1a1a1a" stroke-width="0.5"/>
<circle cx="257.75" cy="466.60" r="1.35" fill="#444" stroke="#1a1a1a" stroke-width="0.5"/>
<text x="266.60" y="466.70" font-size="6.0" text-anchor="middle" fill="#111" font-weight="bold" dominant-baseline="central" transform="matrix(1,0,0,1.1,0,-46.670)" >(d)</text>
<circle cx="225.00" cy="466.60" r="0.55" fill="#6aa6ee"/>
<circle cx="252.50" cy="459.60" r="0.55" fill="#6aa6ee"/>
<circle cx="267.50" cy="452.00" r="0.55" fill="#6aa6ee"/>
<circle cx="270.30" cy="459.60" r="0.55" fill="#6aa6ee"/>
<circle cx="292.50" cy="437.75" r="0.55" fill="#6aa6ee"/>
<circle cx="296.00" cy="445.30" r="0.55" fill="#6aa6ee"/>
<circle cx="280.00" cy="445.00" r="0.55" fill="#6aa6ee"/>
<circle cx="282.50" cy="452.50" r="0.55" fill="#6aa6ee"/>
<text x="296.60" y="398.80" font-size="6.4" text-anchor="middle" fill="#2a2a2a" font-weight="normal" dominant-baseline="central" transform="matrix(1,0,0,1.1,0,-39.880)" >(l)</text>
<rect x="222.9" y="474.7" width="33.70" height="33.70" fill="url(#insg)"/>
<rect x="222.9" y="474.7" width="33.70" height="33.70" filter="url(#nzi)" opacity="0.8"/>
<path d="M223.4,495.594 L227.4,501.65999999999997" stroke="#e8e8e8" stroke-width="1.4" opacity="0.55"/>
<path d="M223.9,479.755 L228.4,486.495" stroke="#dcdcdc" stroke-width="1.1" opacity="0.45"/>
<line x1="222.90" y1="476.70" x2="254.10" y2="476.70" stroke="#5e5e5e" stroke-width="0.85" />
<line x1="231.90" y1="476.70" x2="231.90" y2="508.40" stroke="#5e5e5e" stroke-width="0.7" />
<circle cx="242.22" cy="500.50" r="0.3" fill="#666"/>
<circle cx="243.61" cy="478.67" r="0.3" fill="#666"/>
<circle cx="241.02" cy="498.49" r="0.3" fill="#666"/>
<circle cx="240.11" cy="488.38" r="0.3" fill="#666"/>
<circle cx="243.02" cy="498.61" r="0.3" fill="#666"/>
<circle cx="239.81" cy="486.88" r="0.3" fill="#666"/>
<circle cx="238.75" cy="503.71" r="0.3" fill="#666"/>
<circle cx="237.53" cy="482.64" r="0.3" fill="#666"/>
<circle cx="235.98" cy="485.88" r="0.3" fill="#666"/>
<circle cx="241.27" cy="492.45" r="0.3" fill="#666"/>
<circle cx="243.91" cy="480.67" r="0.3" fill="#666"/>
<circle cx="242.62" cy="500.72" r="0.3" fill="#666"/>
<circle cx="236.81" cy="501.19" r="0.3" fill="#666"/>
<circle cx="236.15" cy="488.19" r="0.3" fill="#666"/>
<circle cx="241.38" cy="493.56" r="0.3" fill="#666"/>
<circle cx="243.86" cy="495.27" r="0.3" fill="#666"/>
<path d="M250.79999999999998,475.40000000000003 L253.79999999999998,476.6 L250.79999999999998,477.8Z" fill="#d42a2a"/>
<rect x="219.7" y="395.0" width="80.60" height="115.60" fill="none" stroke="#b4b4b4" stroke-width="0.9"/>
<text x="302.00" y="412.40" font-size="6.3" text-anchor="start" fill="#2a2a2a" font-weight="normal" dominant-baseline="central" transform="matrix(1,0,0,1.1,0,-41.240)" >32 °N</text>
<text x="302.00" y="438.50" font-size="6.3" text-anchor="start" fill="#2a2a2a" font-weight="normal" dominant-baseline="central" transform="matrix(1,0,0,1.1,0,-43.850)" >31 °N</text>
<text x="302.00" y="466.00" font-size="6.3" text-anchor="start" fill="#2a2a2a" font-weight="normal" dominant-baseline="central" transform="matrix(1,0,0,1.1,0,-46.600)" >30 °N</text>
<text x="302.00" y="492.80" font-size="6.3" text-anchor="start" fill="#2a2a2a" font-weight="normal" dominant-baseline="central" transform="matrix(1,0,0,1.1,0,-49.280)" >29 °N</text>
</svg>
</body></html>
